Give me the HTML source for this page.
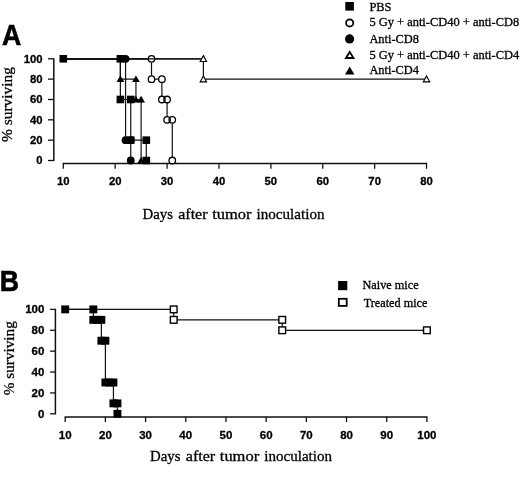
<!DOCTYPE html>
<html><head><meta charset="utf-8"><style>
html,body{margin:0;padding:0;background:#fff;}
body{width:520px;height:483px;overflow:hidden;font-family:"Liberation Serif",serif;}
svg{display:block;will-change:transform;}
</style></head><body>
<svg width="520" height="483" viewBox="0 0 520 483">
<rect width="520" height="483" fill="#fff"/>
<text transform="translate(2.0,44.8) scale(0.92,1)" font-family="&quot;Liberation Sans&quot;, sans-serif" font-size="29" font-weight="bold" stroke="#000" stroke-width="0.6">A</text>
<line x1="53.80" y1="58.20" x2="53.80" y2="161.10" stroke="#111" stroke-width="1.5"/>
<line x1="48.00" y1="160.50" x2="53.80" y2="160.50" stroke="#111" stroke-width="1.3"/>
<text x="42.50" y="164.30" font-family="&quot;Liberation Sans&quot;, sans-serif" font-size="11.3" font-weight="bold" text-anchor="end" fill="#000" stroke="#000" stroke-width="0.3">0</text>
<line x1="48.00" y1="140.16" x2="53.80" y2="140.16" stroke="#111" stroke-width="1.3"/>
<text x="42.50" y="143.96" font-family="&quot;Liberation Sans&quot;, sans-serif" font-size="11.3" font-weight="bold" text-anchor="end" fill="#000" stroke="#000" stroke-width="0.3">20</text>
<line x1="48.00" y1="119.82" x2="53.80" y2="119.82" stroke="#111" stroke-width="1.3"/>
<text x="42.50" y="123.62" font-family="&quot;Liberation Sans&quot;, sans-serif" font-size="11.3" font-weight="bold" text-anchor="end" fill="#000" stroke="#000" stroke-width="0.3">40</text>
<line x1="48.00" y1="99.48" x2="53.80" y2="99.48" stroke="#111" stroke-width="1.3"/>
<text x="42.50" y="103.28" font-family="&quot;Liberation Sans&quot;, sans-serif" font-size="11.3" font-weight="bold" text-anchor="end" fill="#000" stroke="#000" stroke-width="0.3">60</text>
<line x1="48.00" y1="79.14" x2="53.80" y2="79.14" stroke="#111" stroke-width="1.3"/>
<text x="42.50" y="82.94" font-family="&quot;Liberation Sans&quot;, sans-serif" font-size="11.3" font-weight="bold" text-anchor="end" fill="#000" stroke="#000" stroke-width="0.3">80</text>
<line x1="48.00" y1="58.80" x2="53.80" y2="58.80" stroke="#111" stroke-width="1.3"/>
<text x="42.50" y="62.60" font-family="&quot;Liberation Sans&quot;, sans-serif" font-size="11.3" font-weight="bold" text-anchor="end" fill="#000" stroke="#000" stroke-width="0.3">100</text>
<line x1="62.70" y1="163.60" x2="427.13" y2="163.60" stroke="#111" stroke-width="1.5"/>
<line x1="63.30" y1="163.60" x2="63.30" y2="168.80" stroke="#111" stroke-width="1.3"/>
<text x="63.30" y="184.70" font-family="&quot;Liberation Sans&quot;, sans-serif" font-size="11.3" font-weight="bold" text-anchor="middle" fill="#000" stroke="#000" stroke-width="0.3">10</text>
<line x1="115.19" y1="163.60" x2="115.19" y2="168.80" stroke="#111" stroke-width="1.3"/>
<text x="115.19" y="184.70" font-family="&quot;Liberation Sans&quot;, sans-serif" font-size="11.3" font-weight="bold" text-anchor="middle" fill="#000" stroke="#000" stroke-width="0.3">20</text>
<line x1="167.08" y1="163.60" x2="167.08" y2="168.80" stroke="#111" stroke-width="1.3"/>
<text x="167.08" y="184.70" font-family="&quot;Liberation Sans&quot;, sans-serif" font-size="11.3" font-weight="bold" text-anchor="middle" fill="#000" stroke="#000" stroke-width="0.3">30</text>
<line x1="218.97" y1="163.60" x2="218.97" y2="168.80" stroke="#111" stroke-width="1.3"/>
<text x="218.97" y="184.70" font-family="&quot;Liberation Sans&quot;, sans-serif" font-size="11.3" font-weight="bold" text-anchor="middle" fill="#000" stroke="#000" stroke-width="0.3">40</text>
<line x1="270.86" y1="163.60" x2="270.86" y2="168.80" stroke="#111" stroke-width="1.3"/>
<text x="270.86" y="184.70" font-family="&quot;Liberation Sans&quot;, sans-serif" font-size="11.3" font-weight="bold" text-anchor="middle" fill="#000" stroke="#000" stroke-width="0.3">50</text>
<line x1="322.75" y1="163.60" x2="322.75" y2="168.80" stroke="#111" stroke-width="1.3"/>
<text x="322.75" y="184.70" font-family="&quot;Liberation Sans&quot;, sans-serif" font-size="11.3" font-weight="bold" text-anchor="middle" fill="#000" stroke="#000" stroke-width="0.3">60</text>
<line x1="374.64" y1="163.60" x2="374.64" y2="168.80" stroke="#111" stroke-width="1.3"/>
<text x="374.64" y="184.70" font-family="&quot;Liberation Sans&quot;, sans-serif" font-size="11.3" font-weight="bold" text-anchor="middle" fill="#000" stroke="#000" stroke-width="0.3">70</text>
<line x1="426.53" y1="163.60" x2="426.53" y2="168.80" stroke="#111" stroke-width="1.3"/>
<text x="426.53" y="184.70" font-family="&quot;Liberation Sans&quot;, sans-serif" font-size="11.3" font-weight="bold" text-anchor="middle" fill="#000" stroke="#000" stroke-width="0.3">80</text>
<text x="142.50" y="218.50" font-family="&quot;Liberation Serif&quot;, serif" font-size="15.5" text-anchor="start" fill="#000" textLength="30.40" lengthAdjust="spacingAndGlyphs" stroke="#000" stroke-width="0.3">Days</text>
<text x="178.20" y="218.50" font-family="&quot;Liberation Serif&quot;, serif" font-size="15.5" text-anchor="start" fill="#000" textLength="29.40" lengthAdjust="spacingAndGlyphs" stroke="#000" stroke-width="0.3">after</text>
<text x="212.20" y="218.50" font-family="&quot;Liberation Serif&quot;, serif" font-size="15.5" text-anchor="start" fill="#000" textLength="39.40" lengthAdjust="spacingAndGlyphs" stroke="#000" stroke-width="0.3">tumor</text>
<text x="256.60" y="218.50" font-family="&quot;Liberation Serif&quot;, serif" font-size="15.5" text-anchor="start" fill="#000" textLength="67.90" lengthAdjust="spacingAndGlyphs" stroke="#000" stroke-width="0.3">inoculation</text>
<text transform="translate(12.1,142) rotate(-90)" font-family="&quot;Liberation Serif&quot;, serif" font-size="15" textLength="75" lengthAdjust="spacingAndGlyphs" stroke="#000" stroke-width="0.3">% surviving</text>
<path d="M63.30,58.80 L120.38,58.80 L120.38,99.48 L130.76,99.48 L130.76,140.16 L146.32,140.16 L146.32,160.50" fill="none" stroke="#111" stroke-width="1.2"/>
<path d="M63.30,58.80 L125.57,58.80 L125.57,140.16 L130.76,140.16 L130.76,160.50" fill="none" stroke="#111" stroke-width="1.2"/>
<path d="M63.30,58.80 L120.38,58.80 L120.38,79.14 L135.95,79.14 L135.95,99.48 L141.13,99.48 L141.13,160.50" fill="none" stroke="#111" stroke-width="1.2"/>
<path d="M63.30,58.80 L151.51,58.80 L151.51,79.14 L161.89,79.14 L161.89,99.48 L167.08,99.48 L167.08,119.82 L172.27,119.82 L172.27,160.50" fill="none" stroke="#111" stroke-width="1.2"/>
<path d="M63.30,58.80 L203.40,58.80 L203.40,79.14 L426.53,79.14" fill="none" stroke="#111" stroke-width="1.2"/>
<circle cx="151.51" cy="58.80" r="3.6" fill="#fff"/>
<circle cx="151.51" cy="79.14" r="3.6" fill="#fff"/>
<circle cx="161.89" cy="79.14" r="3.6" fill="#fff"/>
<circle cx="161.89" cy="99.48" r="3.6" fill="#fff"/>
<circle cx="167.08" cy="99.48" r="3.6" fill="#fff"/>
<circle cx="167.08" cy="119.82" r="3.6" fill="#fff"/>
<circle cx="172.27" cy="119.82" r="3.6" fill="#fff"/>
<circle cx="172.27" cy="160.50" r="3.6" fill="#fff"/>
<circle cx="151.51" cy="58.80" r="3.25" fill="none" stroke="#000" stroke-width="1.3"/>
<circle cx="151.51" cy="79.14" r="3.25" fill="none" stroke="#000" stroke-width="1.3"/>
<circle cx="161.89" cy="79.14" r="3.25" fill="none" stroke="#000" stroke-width="1.3"/>
<circle cx="161.89" cy="99.48" r="3.25" fill="none" stroke="#000" stroke-width="1.3"/>
<circle cx="167.08" cy="99.48" r="3.25" fill="none" stroke="#000" stroke-width="1.3"/>
<circle cx="167.08" cy="119.82" r="3.25" fill="none" stroke="#000" stroke-width="1.3"/>
<circle cx="172.27" cy="119.82" r="3.25" fill="none" stroke="#000" stroke-width="1.3"/>
<circle cx="172.27" cy="160.50" r="3.25" fill="none" stroke="#000" stroke-width="1.3"/>
<line x1="63.30" y1="58.80" x2="200.40" y2="58.80" stroke="#111" stroke-width="1.2"/>
<polygon points="203.40,55.63 206.55,61.48 200.25,61.48" fill="#fff" stroke="#000" stroke-width="1.15" stroke-linejoin="miter"/>
<polygon points="203.40,75.97 206.55,81.82 200.25,81.82" fill="#fff" stroke="#000" stroke-width="1.15" stroke-linejoin="miter"/>
<polygon points="426.53,75.97 429.68,81.82 423.38,81.82" fill="#fff" stroke="#000" stroke-width="1.15" stroke-linejoin="miter"/>
<polygon points="120.38,55.17 124.28,61.77 116.48,61.77" fill="#000"/>
<polygon points="120.38,75.51 124.28,82.11 116.48,82.11" fill="#000"/>
<polygon points="135.95,75.51 139.85,82.11 132.05,82.11" fill="#000"/>
<polygon points="135.95,95.85 139.85,102.45 132.05,102.45" fill="#000"/>
<polygon points="141.13,95.85 145.03,102.45 137.23,102.45" fill="#000"/>
<polygon points="141.13,156.87 145.03,163.47 137.23,163.47" fill="#000"/>
<circle cx="125.57" cy="58.80" r="3.9" fill="#000"/>
<circle cx="125.57" cy="140.16" r="3.9" fill="#000"/>
<circle cx="130.76" cy="140.16" r="3.9" fill="#000"/>
<circle cx="130.76" cy="160.50" r="3.9" fill="#000"/>
<rect x="59.50" y="55.00" width="7.6" height="7.6" fill="#000"/>
<rect x="116.58" y="55.00" width="7.6" height="7.6" fill="#000"/>
<rect x="116.58" y="95.68" width="7.6" height="7.6" fill="#000"/>
<rect x="126.96" y="95.68" width="7.6" height="7.6" fill="#000"/>
<rect x="126.96" y="136.36" width="7.6" height="7.6" fill="#000"/>
<rect x="142.52" y="136.36" width="7.6" height="7.6" fill="#000"/>
<rect x="142.52" y="156.70" width="7.6" height="7.6" fill="#000"/>
<rect x="345.30" y="2.00" width="8.6" height="8.6" fill="#000"/>
<circle cx="349.7" cy="22.9" r="3.6" fill="#fff" stroke="#000" stroke-width="1.8"/>
<circle cx="349.60" cy="38.90" r="4.6" fill="#000"/>
<polygon points="349.7,52.0 353.5,58.0 345.9,58.0" fill="#fff" stroke="#000" stroke-width="1.8"/>
<polygon points="349.70,66.40 354.40,74.40 345.00,74.40" fill="#000"/>
<text x="369.40" y="10.60" font-family="&quot;Liberation Serif&quot;, serif" font-size="12.4" text-anchor="start" fill="#000"  stroke="#000" stroke-width="0.3">PBS</text>
<text x="369.40" y="26.00" font-family="&quot;Liberation Serif&quot;, serif" font-size="12.4" text-anchor="start" fill="#000" textLength="149.8" lengthAdjust="spacingAndGlyphs" stroke="#000" stroke-width="0.3">5 Gy + anti-CD40 + anti-CD8</text>
<text x="369.40" y="42.80" font-family="&quot;Liberation Serif&quot;, serif" font-size="12.4" text-anchor="start" fill="#000"  stroke="#000" stroke-width="0.3">Anti-CD8</text>
<text x="369.40" y="58.50" font-family="&quot;Liberation Serif&quot;, serif" font-size="12.4" text-anchor="start" fill="#000" textLength="149.8" lengthAdjust="spacingAndGlyphs" stroke="#000" stroke-width="0.3">5 Gy + anti-CD40 + anti-CD4</text>
<text x="369.40" y="73.90" font-family="&quot;Liberation Serif&quot;, serif" font-size="12.4" text-anchor="start" fill="#000"  stroke="#000" stroke-width="0.3">Anti-CD4</text>
<text transform="translate(-0.2,290.6) scale(0.92,1)" font-family="&quot;Liberation Sans&quot;, sans-serif" font-size="29" font-weight="bold" stroke="#000" stroke-width="0.6">B</text>
<line x1="55.40" y1="308.80" x2="55.40" y2="414.40" stroke="#111" stroke-width="1.5"/>
<line x1="50.10" y1="413.80" x2="55.40" y2="413.80" stroke="#111" stroke-width="1.3"/>
<text x="44.40" y="417.60" font-family="&quot;Liberation Sans&quot;, sans-serif" font-size="11.5" font-weight="bold" text-anchor="end" fill="#000" stroke="#000" stroke-width="0.3">0</text>
<line x1="50.10" y1="392.92" x2="55.40" y2="392.92" stroke="#111" stroke-width="1.3"/>
<text x="44.40" y="396.72" font-family="&quot;Liberation Sans&quot;, sans-serif" font-size="11.5" font-weight="bold" text-anchor="end" fill="#000" stroke="#000" stroke-width="0.3">20</text>
<line x1="50.10" y1="372.04" x2="55.40" y2="372.04" stroke="#111" stroke-width="1.3"/>
<text x="44.40" y="375.84" font-family="&quot;Liberation Sans&quot;, sans-serif" font-size="11.5" font-weight="bold" text-anchor="end" fill="#000" stroke="#000" stroke-width="0.3">40</text>
<line x1="50.10" y1="351.16" x2="55.40" y2="351.16" stroke="#111" stroke-width="1.3"/>
<text x="44.40" y="354.96" font-family="&quot;Liberation Sans&quot;, sans-serif" font-size="11.5" font-weight="bold" text-anchor="end" fill="#000" stroke="#000" stroke-width="0.3">60</text>
<line x1="50.10" y1="330.28" x2="55.40" y2="330.28" stroke="#111" stroke-width="1.3"/>
<text x="44.40" y="334.08" font-family="&quot;Liberation Sans&quot;, sans-serif" font-size="11.5" font-weight="bold" text-anchor="end" fill="#000" stroke="#000" stroke-width="0.3">80</text>
<line x1="50.10" y1="309.40" x2="55.40" y2="309.40" stroke="#111" stroke-width="1.3"/>
<text x="44.40" y="313.20" font-family="&quot;Liberation Sans&quot;, sans-serif" font-size="11.5" font-weight="bold" text-anchor="end" fill="#000" stroke="#000" stroke-width="0.3">100</text>
<line x1="64.60" y1="416.90" x2="427.51" y2="416.90" stroke="#111" stroke-width="1.5"/>
<line x1="65.20" y1="416.90" x2="65.20" y2="422.10" stroke="#111" stroke-width="1.3"/>
<text x="65.20" y="438.50" font-family="&quot;Liberation Sans&quot;, sans-serif" font-size="11.5" font-weight="bold" text-anchor="middle" fill="#000" stroke="#000" stroke-width="0.3">10</text>
<line x1="105.39" y1="416.90" x2="105.39" y2="422.10" stroke="#111" stroke-width="1.3"/>
<text x="105.39" y="438.50" font-family="&quot;Liberation Sans&quot;, sans-serif" font-size="11.5" font-weight="bold" text-anchor="middle" fill="#000" stroke="#000" stroke-width="0.3">20</text>
<line x1="145.58" y1="416.90" x2="145.58" y2="422.10" stroke="#111" stroke-width="1.3"/>
<text x="145.58" y="438.50" font-family="&quot;Liberation Sans&quot;, sans-serif" font-size="11.5" font-weight="bold" text-anchor="middle" fill="#000" stroke="#000" stroke-width="0.3">30</text>
<line x1="185.77" y1="416.90" x2="185.77" y2="422.10" stroke="#111" stroke-width="1.3"/>
<text x="185.77" y="438.50" font-family="&quot;Liberation Sans&quot;, sans-serif" font-size="11.5" font-weight="bold" text-anchor="middle" fill="#000" stroke="#000" stroke-width="0.3">40</text>
<line x1="225.96" y1="416.90" x2="225.96" y2="422.10" stroke="#111" stroke-width="1.3"/>
<text x="225.96" y="438.50" font-family="&quot;Liberation Sans&quot;, sans-serif" font-size="11.5" font-weight="bold" text-anchor="middle" fill="#000" stroke="#000" stroke-width="0.3">50</text>
<line x1="266.15" y1="416.90" x2="266.15" y2="422.10" stroke="#111" stroke-width="1.3"/>
<text x="266.15" y="438.50" font-family="&quot;Liberation Sans&quot;, sans-serif" font-size="11.5" font-weight="bold" text-anchor="middle" fill="#000" stroke="#000" stroke-width="0.3">60</text>
<line x1="306.34" y1="416.90" x2="306.34" y2="422.10" stroke="#111" stroke-width="1.3"/>
<text x="306.34" y="438.50" font-family="&quot;Liberation Sans&quot;, sans-serif" font-size="11.5" font-weight="bold" text-anchor="middle" fill="#000" stroke="#000" stroke-width="0.3">70</text>
<line x1="346.53" y1="416.90" x2="346.53" y2="422.10" stroke="#111" stroke-width="1.3"/>
<text x="346.53" y="438.50" font-family="&quot;Liberation Sans&quot;, sans-serif" font-size="11.5" font-weight="bold" text-anchor="middle" fill="#000" stroke="#000" stroke-width="0.3">80</text>
<line x1="386.72" y1="416.90" x2="386.72" y2="422.10" stroke="#111" stroke-width="1.3"/>
<text x="386.72" y="438.50" font-family="&quot;Liberation Sans&quot;, sans-serif" font-size="11.5" font-weight="bold" text-anchor="middle" fill="#000" stroke="#000" stroke-width="0.3">90</text>
<line x1="426.91" y1="416.90" x2="426.91" y2="422.10" stroke="#111" stroke-width="1.3"/>
<text x="426.91" y="438.50" font-family="&quot;Liberation Sans&quot;, sans-serif" font-size="11.5" font-weight="bold" text-anchor="middle" fill="#000" stroke="#000" stroke-width="0.3">100</text>
<text x="150.10" y="460.70" font-family="&quot;Liberation Serif&quot;, serif" font-size="15.5" text-anchor="start" fill="#000" textLength="30.40" lengthAdjust="spacingAndGlyphs" stroke="#000" stroke-width="0.3">Days</text>
<text x="185.80" y="460.70" font-family="&quot;Liberation Serif&quot;, serif" font-size="15.5" text-anchor="start" fill="#000" textLength="29.40" lengthAdjust="spacingAndGlyphs" stroke="#000" stroke-width="0.3">after</text>
<text x="219.80" y="460.70" font-family="&quot;Liberation Serif&quot;, serif" font-size="15.5" text-anchor="start" fill="#000" textLength="39.40" lengthAdjust="spacingAndGlyphs" stroke="#000" stroke-width="0.3">tumor</text>
<text x="264.20" y="460.70" font-family="&quot;Liberation Serif&quot;, serif" font-size="15.5" text-anchor="start" fill="#000" textLength="67.90" lengthAdjust="spacingAndGlyphs" stroke="#000" stroke-width="0.3">inoculation</text>
<text transform="translate(14.1,395.2) rotate(-90)" font-family="&quot;Liberation Serif&quot;, serif" font-size="15" textLength="74" lengthAdjust="spacingAndGlyphs" stroke="#000" stroke-width="0.3">% surviving</text>
<path d="M65.20,309.40 L93.33,309.40 L93.33,319.84 L101.37,319.84 L101.37,340.72 L105.39,340.72 L105.39,382.48 L113.43,382.48 L113.43,403.36 L117.45,403.36 L117.45,413.80" fill="none" stroke="#111" stroke-width="1.2"/>
<path d="M65.20,309.40 L173.71,309.40 L173.71,319.84 L282.23,319.84 L282.23,330.28 L426.91,330.28" fill="none" stroke="#111" stroke-width="1.2"/>
<rect x="170.36" y="306.05" width="6.699999999999999" height="6.699999999999999" fill="#fff" stroke="#000" stroke-width="1.4"/>
<rect x="170.36" y="316.49" width="6.699999999999999" height="6.699999999999999" fill="#fff" stroke="#000" stroke-width="1.4"/>
<rect x="278.88" y="316.49" width="6.699999999999999" height="6.699999999999999" fill="#fff" stroke="#000" stroke-width="1.4"/>
<rect x="278.88" y="326.93" width="6.699999999999999" height="6.699999999999999" fill="#fff" stroke="#000" stroke-width="1.4"/>
<rect x="423.56" y="326.93" width="6.699999999999999" height="6.699999999999999" fill="#fff" stroke="#000" stroke-width="1.4"/>
<rect x="61.25" y="305.45" width="7.9" height="7.9" fill="#000"/>
<rect x="89.38" y="305.45" width="7.9" height="7.9" fill="#000"/>
<rect x="89.38" y="315.89" width="7.9" height="7.9" fill="#000"/>
<rect x="93.40" y="315.89" width="7.9" height="7.9" fill="#000"/>
<rect x="97.42" y="315.89" width="7.9" height="7.9" fill="#000"/>
<rect x="97.42" y="336.77" width="7.9" height="7.9" fill="#000"/>
<rect x="101.44" y="336.77" width="7.9" height="7.9" fill="#000"/>
<rect x="101.44" y="378.53" width="7.9" height="7.9" fill="#000"/>
<rect x="105.46" y="378.53" width="7.9" height="7.9" fill="#000"/>
<rect x="109.48" y="378.53" width="7.9" height="7.9" fill="#000"/>
<rect x="109.48" y="399.41" width="7.9" height="7.9" fill="#000"/>
<rect x="113.50" y="399.41" width="7.9" height="7.9" fill="#000"/>
<rect x="113.50" y="409.85" width="7.9" height="7.9" fill="#000"/>
<rect x="338.10" y="281.00" width="9.2" height="9.2" fill="#000"/>
<rect x="338.8" y="298.8" width="7.9" height="7.1" fill="#fff" stroke="#000" stroke-width="1.8"/>
<text x="362.40" y="288.90" font-family="&quot;Liberation Serif&quot;, serif" font-size="12.3" text-anchor="start" fill="#000" textLength="56.3" lengthAdjust="spacingAndGlyphs" stroke="#000" stroke-width="0.3">Naive mice</text>
<text x="363.70" y="307.20" font-family="&quot;Liberation Serif&quot;, serif" font-size="12.3" text-anchor="start" fill="#000" textLength="63.8" lengthAdjust="spacingAndGlyphs" stroke="#000" stroke-width="0.3">Treated mice</text>
</svg>
</body></html>
